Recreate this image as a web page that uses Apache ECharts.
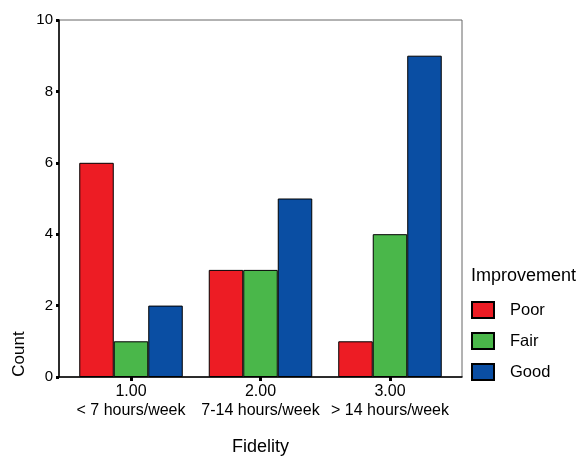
<!DOCTYPE html>
<html><head><meta charset="utf-8">
<script src="https://cdn.jsdelivr.net/npm/echarts@6/dist/echarts.min.js"></script>
<style>html,body{margin:0;padding:0;background:#fff}#c{width:582px;height:457px}</style>
</head><body><div id="c"></div>
<script>
const fidelityCodes = [1, 2, 3];
const fidelityLabels = ['1.00\n< 7 hours/week', '2.00\n7-14 hours/week', '3.00\n> 14 hours/week'];
const seriesNames = ['Poor', 'Fair', 'Good'];
const poorCounts = [6, 3, 1];
const fairCounts = [1, 3, 4];
const goodCounts = [2, 5, 9];
const yTicks = [0, 2, 4, 6, 8, 10];

const colors = ['#ED1C24', '#4AB74A', '#0A4EA3'];
const valueSets = [poorCounts, fairCounts, goodCounts];
const FONT = 'Arial, "Liberation Sans", Helvetica, sans-serif';

const chart = echarts.init(document.getElementById('c'), null, {renderer: 'canvas'});
chart.setOption({
  animation: false,
  textStyle: {fontFamily: FONT, color: '#000'},
  grid: {left: 59, right: 120, top: 20, bottom: 80, show: true, borderColor: '#666', borderWidth: 1,
    containLabel: false, outerBoundsMode: 'none'},
  title: {text: 'Improvement', left: 471, top: 267, padding: 0,
    textStyle: {fontFamily: FONT, fontSize: 18, fontWeight: 'normal', color: '#000'}},
  legend: {
    orient: 'vertical', left: 471, top: 301, padding: 0, itemWidth: 22, itemHeight: 16, itemGap: 13,
    icon: 'rect',
    textStyle: {fontFamily: FONT, fontSize: 16.5, lineHeight: 16, color: '#000', padding: [0, 0, 0, 11]},
    data: seriesNames
  },
  xAxis: {
    type: 'value', min: 0.444, max: 3.556,
    name: 'Fidelity', nameLocation: 'middle', nameGap: 61,
    nameTextStyle: {fontFamily: FONT, fontSize: 18, color: '#000'},
    splitLine: {show: false},
    axisLine: {show: true, onZero: false, lineStyle: {color: '#000', width: 1.5}},
    axisTick: {show: true, customValues: fidelityCodes, length: 4, lineStyle: {color: '#000', width: 3}},
    axisLabel: {customValues: fidelityCodes, margin: 5, fontSize: 16, color: '#000', lineHeight: 19,
      formatter: v => fidelityLabels[fidelityCodes.indexOf(Math.round(v))] || ''}
  },
  yAxis: {
    type: 'value', min: 0, max: 10, interval: 2,
    splitLine: {show: false},
    axisLine: {show: true, lineStyle: {color: '#000', width: 1.5}},
    axisTick: {show: true, length: 3, lineStyle: {color: '#000', width: 3}},
    axisLabel: {margin: 6, fontSize: 15, color: '#000', formatter: v => yTicks.includes(v) ? String(v) : ''}
  },
  graphic: [{
    type: 'text', x: 19, y: 354, rotation: Math.PI / 2,
    style: {text: 'Count', font: '17px ' + FONT, fill: '#000', align: 'center', verticalAlign: 'middle'}
  }],
  series: seriesNames.map((n, i) => ({
    name: n, type: 'bar', barWidth: 34.5, barGap: '0%',
    itemStyle: {color: colors[i], borderColor: '#000', borderWidth: 1},
    data: fidelityCodes.map((c, j) => [c, valueSets[i][j]])
  }))
});
</script></body></html>
